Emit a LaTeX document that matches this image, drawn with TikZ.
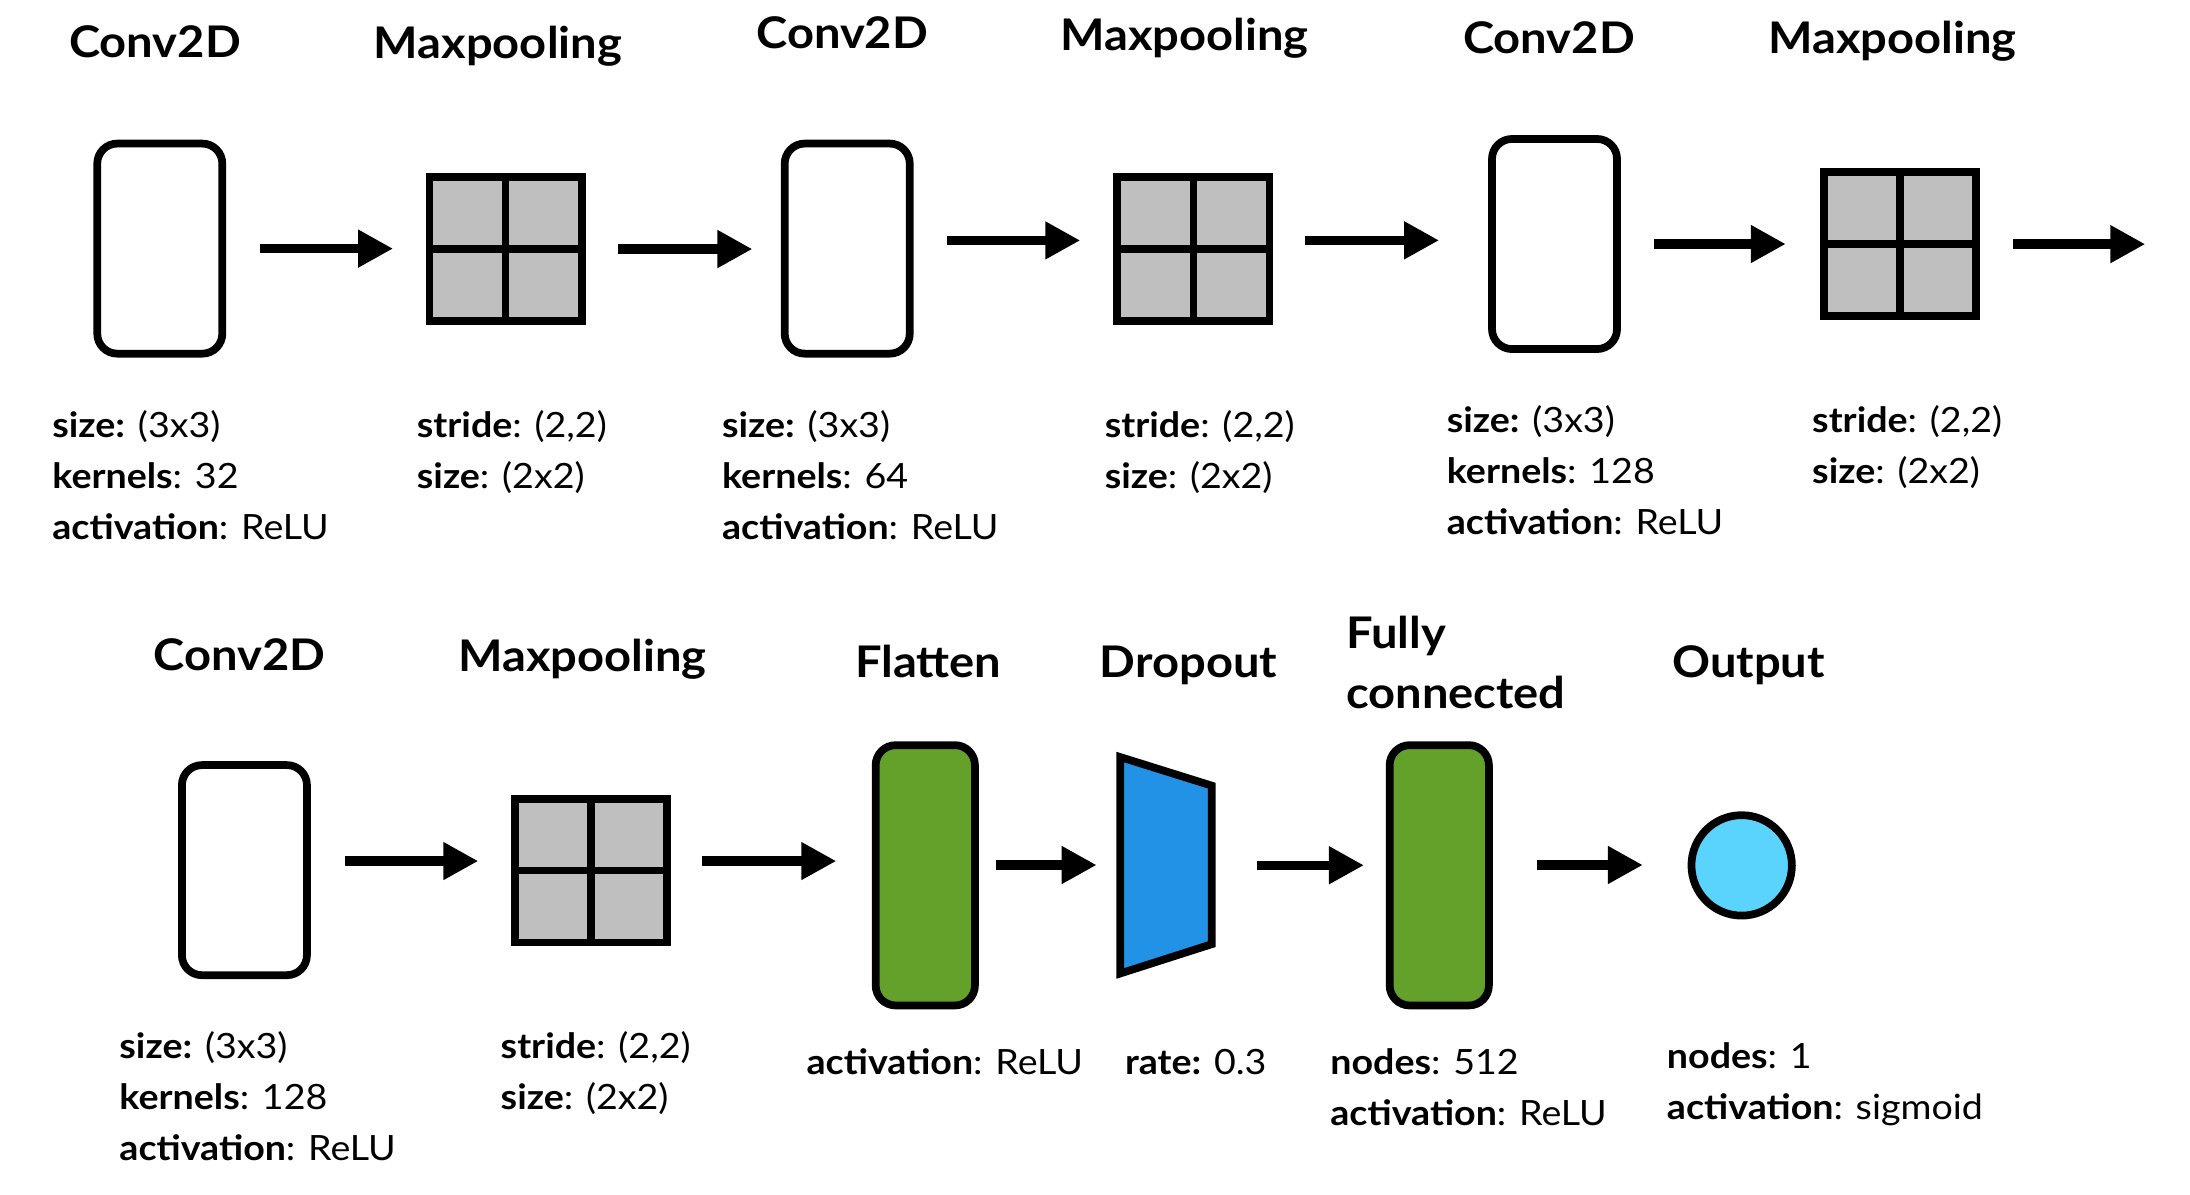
\documentclass[tikz,border=0pt]{standalone}
\usepackage{fontspec}
\setmainfont{Lato}[FakeStretch=1.08]
\usetikzlibrary{arrows.meta}

\definecolor{poolgray}{RGB}{191,191,191}
\definecolor{densegreen}{RGB}{99,161,42}
\definecolor{dropblue}{RGB}{33,146,230}
\definecolor{outblue}{RGB}{90,212,252}

\tikzset{
  blk/.style={draw, line width=2.2pt, inner sep=0pt},
  convbox/.style={blk, rounded corners=0.2cm, fill=white, minimum width=1.25cm, minimum height=2.10cm},
  poolbox/.style={blk, fill=poolgray, minimum width=1.522cm, minimum height=1.436cm,
    path picture={\draw[line width=2.2pt]
      (path picture bounding box.north) -- (path picture bounding box.south)
      (path picture bounding box.west) -- (path picture bounding box.east);}},
  densebox/.style={blk, rounded corners=0.2cm, fill=densegreen, minimum width=0.992cm, minimum height=2.602cm},
  outnode/.style={blk, circle, fill=outblue, minimum size=1.004cm},
  dropnode/.style={inner sep=0pt, outer sep=0pt, minimum width=1.0cm, minimum height=2.29cm},
  ttl/.style={font=\fontsize{12.4}{17.1}\selectfont\bfseries, anchor=base, inner sep=0pt},
  % multi-line nodes sit on the baseline of their last line
  info/.style={font=\fontsize{9.9}{14.5}\selectfont, anchor=base west, align=left, inner sep=0pt},
  arr/.style={line width=2.7pt, -{Triangle[length=0.35cm, width=0.356cm]}}
}

\begin{document}
\begin{tikzpicture}[x=0.013967cm, y=-0.013967cm]
\useasboundingbox (0,0) rectangle (1568,855);
% Layers, first row
    \node[convbox] (conv1) at (114.4,178) {};
    \node[poolbox] (pool1) at (362,178.3) {};
    \node[convbox] (conv2) at (606.6,178) {};
    \node[poolbox] (pool2) at (854.5,178.3) {};
    \node[convbox] (conv3) at (1113,174.7) {};
    \node[poolbox] (pool3) at (1360.3,174.8) {};
    \coordinate (rowend) at (1536,174.8);
% Layers, second row
    \node[convbox] (conv4) at (175,623) {};
    \node[poolbox] (pool4) at (423,623.3) {};
    \node[densebox] (flat) at (662.5,626.7) {};
    \node[dropnode] (drop) at (834.8,619.5) {};
    \draw[line width=2.2pt, fill=dropblue, line join=miter]
      (802,542) -- (867.6,562.5) -- (867.6,676) -- (802,697) -- cycle;
    \node[densebox] (fc) at (1030.5,626.7) {};
    \node[outnode] (out) at (1247,619.6) {};
% Titles
    \node[ttl] (t1) at (111,41.5) {Conv2D};
    \node[ttl] (t2) at (356.5,41.7) {Maxpooling};
    \node[ttl] (t3) at (603,35) {Conv2D};
    \node[ttl] (t4) at (848,36) {Maxpooling};
    \node[ttl] (t5) at (1109,38.2) {Conv2D};
    \node[ttl] (t6) at (1355,38) {Maxpooling};
    \node[ttl] (t7) at (171.3,480) {Conv2D};
    \node[ttl] (t8) at (417,481) {Maxpooling};
    \node[ttl] (t9) at (664.5,485) {Flatten};
    \node[ttl] (t10) at (851,485) {Dropout};
    \node[ttl, anchor=base west, align=left] (t11) at (963.3,507) {Fully\\connected};
    \node[ttl] (t12) at (1252,485) {Output};
% Parameters
    \node[info] (i1) at (37,386) {\textbf{size:} (3x3)\\\textbf{kernels}: 32\\\textbf{activation}: ReLU};
    \node[info] (i2) at (298,349.5) {\textbf{stride}: (2,2)\\\textbf{size}: (2x2)};
    \node[info] (i3) at (516.5,386) {\textbf{size:} (3x3)\\\textbf{kernels}: 64\\\textbf{activation}: ReLU};
    \node[info] (i4) at (790.5,349.5) {\textbf{stride}: (2,2)\\\textbf{size}: (2x2)};
    \node[info] (i5) at (1035.4,383) {\textbf{size:} (3x3)\\\textbf{kernels}: 128\\\textbf{activation}: ReLU};
    \node[info] (i6) at (1297,346.5) {\textbf{stride}: (2,2)\\\textbf{size}: (2x2)};
    \node[info] (i7) at (85,831) {\textbf{size:} (3x3)\\\textbf{kernels}: 128\\\textbf{activation}: ReLU};
    \node[info] (i8) at (358,794.5) {\textbf{stride}: (2,2)\\\textbf{size}: (2x2)};
    \node[info] (i9) at (577,769) {\textbf{activation}: ReLU};
    \node[info] (i10) at (805,769) {\textbf{rate:} 0.3};
    \node[info] (i11) at (952,805.5) {\textbf{nodes}: 512\\\textbf{activation}: ReLU};
    \node[info] (i12) at (1193,801.5) {\textbf{nodes}: 1\\\textbf{activation}: sigmoid};
% Arrows
    \draw[arr, shorten <=0.337cm, shorten >=0.325cm] (conv1.east) -- (conv1.east -| pool1.west);
    \draw[arr, shorten <=0.325cm, shorten >=0.284cm] (pool1.east) -- (pool1.east -| conv2.west);
    \draw[arr, shorten <=0.332cm, shorten >=0.332cm] ([yshift=0.082cm]conv2.east) -- ([yshift=0.082cm]conv2.east -| pool2.west);
    \draw[arr, shorten <=0.317cm, shorten >=0.49cm] ([yshift=0.087cm]pool2.east) -- ([yshift=0.087cm]pool2.east -| conv3.west);
    \draw[arr, shorten <=0.332cm, shorten >=0.341cm] (conv3.east) -- (conv3.east -| pool3.west);
    \draw[arr, shorten <=0.334cm] (pool3.east) -- (rowend);
    \draw[arr, shorten <=0.337cm, shorten >=0.325cm] ([yshift=0.091cm]conv4.east) -- ([yshift=0.091cm]conv4.east -| pool4.west);
    \draw[arr, shorten <=0.313cm, shorten >=0.355cm] ([yshift=0.095cm]pool4.east) -- ([yshift=0.095cm]pool4.east -| flat.west);
    \draw[arr, shorten <=0.17cm, shorten >=0.193cm] ([yshift=0.103cm]flat.east) -- ([yshift=0.103cm]flat.east -| drop.west);
    \draw[arr, shorten <=0.415cm, shorten >=0.218cm] (drop.east) -- (drop.east -| fc.west);
    \draw[arr, shorten <=0.44cm, shorten >=0.447cm] ([yshift=0.103cm]fc.east) -- ([yshift=0.103cm]fc.east -| out.west);
\end{tikzpicture}
\end{document}
